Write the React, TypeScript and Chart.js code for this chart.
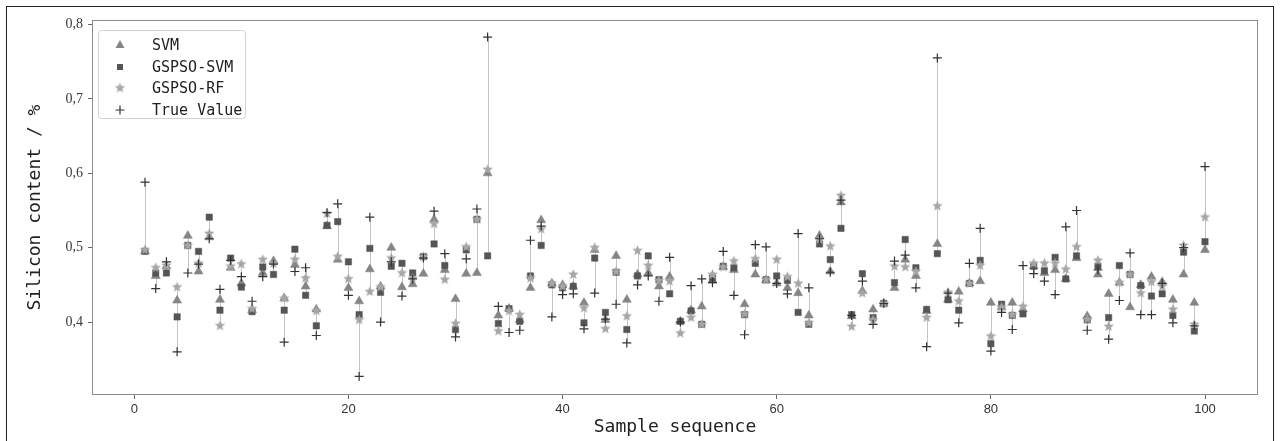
import React, { useEffect, useRef } from 'react';
import { Chart, registerables } from 'chart.js';

Chart.register(...registerables);

// Sample sequence 1..100
const samples: number[] = Array.from({ length: 100 }, (_, i) => i + 1);

const svm: number[] = [
  0.495, 0.462, 0.475, 0.429, 0.516, 0.468, 0.514, 0.430, 0.473, 0.452,
  0.416, 0.466, 0.482, 0.432, 0.477, 0.448, 0.417, 0.529, 0.484, 0.446,
  0.428, 0.471, 0.448, 0.500, 0.447, 0.451, 0.465, 0.538, 0.470, 0.431,
  0.465, 0.466, 0.600, 0.409, 0.418, 0.403, 0.446, 0.537, 0.452, 0.450,
  0.448, 0.426, 0.497, 0.403, 0.489, 0.430, 0.464, 0.466, 0.448, 0.461,
  0.401, 0.416, 0.421, 0.456, 0.474, 0.470, 0.424, 0.464, 0.456, 0.452,
  0.446, 0.439, 0.409, 0.516, 0.468, 0.561, 0.408, 0.442, 0.417, 0.425,
  0.446, 0.484, 0.462, 0.415, 0.505, 0.430, 0.441, 0.452, 0.455, 0.426,
  0.420, 0.426, 0.417, 0.475, 0.466, 0.470, 0.458, 0.486, 0.408, 0.464,
  0.438, 0.453, 0.420, 0.450, 0.461, 0.454, 0.430, 0.464, 0.426, 0.497,
];

const gspsoSvm: number[] = [
  0.495, 0.466, 0.466, 0.407, 0.503, 0.495, 0.541, 0.416, 0.486, 0.447,
  0.414, 0.474, 0.464, 0.416, 0.498, 0.436, 0.395, 0.530, 0.535, 0.481,
  0.410, 0.499, 0.440, 0.475, 0.479, 0.466, 0.488, 0.505, 0.476, 0.390,
  0.497, 0.538, 0.489, 0.398, 0.418, 0.401, 0.462, 0.503, 0.450, 0.446,
  0.448, 0.399, 0.486, 0.413, 0.467, 0.390, 0.462, 0.489, 0.457, 0.438,
  0.401, 0.415, 0.397, 0.459, 0.475, 0.473, 0.410, 0.479, 0.457, 0.462,
  0.456, 0.413, 0.397, 0.505, 0.484, 0.526, 0.410, 0.465, 0.406, 0.425,
  0.453, 0.511, 0.473, 0.417, 0.492, 0.430, 0.416, 0.452, 0.483, 0.371,
  0.424, 0.409, 0.411, 0.475, 0.469, 0.487, 0.458, 0.489, 0.403, 0.475,
  0.406, 0.476, 0.464, 0.449, 0.435, 0.438, 0.409, 0.494, 0.388, 0.508,
];

const gspsoRf: number[] = [
  0.497, 0.473, 0.476, 0.447, 0.503, 0.479, 0.519, 0.395, 0.475, 0.478,
  0.418, 0.484, 0.479, 0.432, 0.484, 0.459, 0.415, 0.546, 0.488, 0.458,
  0.403, 0.441, 0.447, 0.486, 0.466, 0.459, 0.488, 0.532, 0.457, 0.398,
  0.501, 0.538, 0.605, 0.388, 0.415, 0.410, 0.459, 0.525, 0.452, 0.448,
  0.464, 0.419, 0.500, 0.391, 0.468, 0.408, 0.496, 0.476, 0.456, 0.455,
  0.385, 0.406, 0.397, 0.464, 0.474, 0.482, 0.411, 0.485, 0.457, 0.484,
  0.461, 0.452, 0.399, 0.511, 0.502, 0.570, 0.394, 0.439, 0.403, 0.425,
  0.475, 0.474, 0.468, 0.406, 0.556, 0.440, 0.428, 0.452, 0.476, 0.381,
  0.420, 0.410, 0.421, 0.479, 0.479, 0.479, 0.471, 0.501, 0.404, 0.483,
  0.394, 0.453, 0.464, 0.439, 0.454, 0.448, 0.417, 0.503, 0.397, 0.541,
];

const trueValue: number[] = [
  0.588, 0.445, 0.481, 0.360, 0.466, 0.478, 0.512, 0.444, 0.483, 0.461,
  0.428, 0.461, 0.478, 0.373, 0.468, 0.473, 0.382, 0.547, 0.559, 0.436,
  0.327, 0.541, 0.400, 0.481, 0.435, 0.458, 0.486, 0.549, 0.492, 0.380,
  0.485, 0.552, 0.783, 0.421, 0.386, 0.389, 0.510, 0.529, 0.407, 0.437,
  0.438, 0.391, 0.439, 0.404, 0.424, 0.372, 0.450, 0.462, 0.428, 0.487,
  0.400, 0.449, 0.458, 0.453, 0.495, 0.436, 0.383, 0.504, 0.501, 0.452,
  0.438, 0.519, 0.446, 0.512, 0.467, 0.564, 0.409, 0.455, 0.397, 0.425,
  0.482, 0.490, 0.446, 0.367, 0.755, 0.439, 0.399, 0.479, 0.526, 0.361,
  0.413, 0.390, 0.476, 0.465, 0.455, 0.437, 0.528, 0.550, 0.389, 0.470,
  0.377, 0.429, 0.493, 0.410, 0.410, 0.452, 0.399, 0.500, 0.395, 0.609,
];

const xTicks: number[] = [0, 20, 40, 60, 80, 100];
const yTicks: number[] = [0.4, 0.5, 0.6, 0.7, 0.8];
const seriesNames: string[] = ['SVM', 'GSPSO-SVM', 'GSPSO-RF', 'True Value'];

const C_TRI = '#858585';
const C_SQ = '#555555';
const C_STAR = '#a6a6a6';
const C_CROSS = '#333333';

function makeStar(color: string, outer: number, inner: number): HTMLCanvasElement {
  const size = Math.ceil(outer * 2 + 2);
  const c = document.createElement('canvas');
  c.width = size;
  c.height = size;
  const ctx = c.getContext('2d')!;
  const cx = size / 2;
  const cy = size / 2;
  ctx.beginPath();
  for (let k = 0; k < 10; k++) {
    const r = k % 2 === 0 ? outer : inner;
    const a = -Math.PI / 2 + (k * Math.PI) / 5;
    const px = cx + r * Math.cos(a);
    const py = cy + r * Math.sin(a);
    if (k === 0) ctx.moveTo(px, py);
    else ctx.lineTo(px, py);
  }
  ctx.closePath();
  ctx.fillStyle = color;
  ctx.fill();
  return c;
}

const MONO = "'DejaVu Sans Mono', 'Liberation Mono', monospace";

export default function App() {
  const ref = useRef<HTMLCanvasElement | null>(null);

  useEffect(() => {
    if (!ref.current) return;
    const star = makeStar(C_STAR, 5.5, 2.4);

    const rangesPlugin = {
      id: 'ranges',
      beforeDatasetsDraw(chart: any) {
        const { ctx, scales } = chart;
        const xs = scales.x;
        const ys = scales.y;
        ctx.save();
        ctx.strokeStyle = '#c4c4c4';
        ctx.lineWidth = 1;
        samples.forEach((s, i) => {
          const vals = [svm[i], gspsoSvm[i], gspsoRf[i], trueValue[i]];
          const lo = Math.min(...vals);
          const hi = Math.max(...vals);
          const x = Math.round(xs.getPixelForValue(s)) + 0.5;
          ctx.beginPath();
          ctx.moveTo(x, ys.getPixelForValue(lo));
          ctx.lineTo(x, ys.getPixelForValue(hi));
          ctx.stroke();
        });
        ctx.restore();
      },
      afterDraw(chart: any) {
        const { ctx, chartArea } = chart;
        ctx.save();
        // plot frame
        ctx.strokeStyle = '#8c8c8c';
        ctx.lineWidth = 1;
        ctx.strokeRect(chartArea.left + 0.5, chartArea.top + 0.5,
          chartArea.right - chartArea.left - 1, chartArea.bottom - chartArea.top - 1);

        // legend
        const bx = chartArea.left + 6;
        const by = chartArea.top + 10;
        const bw = 147;
        const bh = 88;
        ctx.fillStyle = 'rgba(255,255,255,0.9)';
        ctx.strokeStyle = '#d2d2d2';
        ctx.beginPath();
        ctx.roundRect(bx + 0.5, by + 0.5, bw, bh, 3);
        ctx.fill();
        ctx.stroke();

        const mx = bx + 22;
        const tx = bx + 54;
        const rows = [by + 15, by + 37, by + 58, by + 80];
        // triangle
        ctx.fillStyle = C_TRI;
        ctx.beginPath();
        ctx.moveTo(mx, rows[0] - 5);
        ctx.lineTo(mx + 4.5, rows[0] + 3);
        ctx.lineTo(mx - 4.5, rows[0] + 3);
        ctx.closePath();
        ctx.fill();
        // square
        ctx.fillStyle = C_SQ;
        ctx.fillRect(mx - 3, rows[1] - 3, 6, 6);
        // star
        ctx.drawImage(star, mx - star.width / 2, rows[2] - star.height / 2);
        // cross
        ctx.strokeStyle = C_CROSS;
        ctx.lineWidth = 1.2;
        ctx.beginPath();
        ctx.moveTo(mx - 4.5, rows[3]);
        ctx.lineTo(mx + 4.5, rows[3]);
        ctx.moveTo(mx, rows[3] - 4.5);
        ctx.lineTo(mx, rows[3] + 4.5);
        ctx.stroke();

        ctx.fillStyle = '#222';
        ctx.font = `15px ${MONO}`;
        ctx.textBaseline = 'middle';
        ctx.textAlign = 'left';
        seriesNames.forEach((n, k) => ctx.fillText(n, tx, rows[k] + 1));
        ctx.restore();
      },
    };

    const mk = (arr: number[]) => samples.map((s, i) => ({ x: s, y: arr[i] }));

    const chart = new Chart(ref.current, {
      type: 'scatter',
      data: {
        datasets: [
          {
            label: seriesNames[0], data: mk(svm), pointStyle: 'triangle', pointRadius: 5.2,
            backgroundColor: C_TRI, borderColor: C_TRI, borderWidth: 0.5, order: 4,
          },
          {
            label: seriesNames[1], data: mk(gspsoSvm), pointStyle: 'rect', pointRadius: 4.5,
            backgroundColor: C_SQ, borderColor: C_SQ, borderWidth: 0.5, order: 3,
          },
          {
            label: seriesNames[2], data: mk(gspsoRf), pointStyle: star as any, pointRadius: 5,
            backgroundColor: C_STAR, borderColor: C_STAR, borderWidth: 0, order: 2,
          },
          {
            label: seriesNames[3], data: mk(trueValue), pointStyle: 'cross', pointRadius: 4.5,
            backgroundColor: C_CROSS, borderColor: C_CROSS, borderWidth: 1.2, order: 1,
          },
        ] as any,
      },
      options: {
        animation: false,
        responsive: false,
        events: [],
        layout: { padding: { left: 0, top: 20, right: 24, bottom: 0 } },
        plugins: { legend: { display: false }, tooltip: { enabled: false } },
        scales: {
          x: {
            type: 'linear',
            min: -3.95,
            max: 104.95,
            afterFit(scale: any) { scale.height = 46; },
            afterBuildTicks(scale: any) { scale.ticks = xTicks.map((v) => ({ value: v })); },
            grid: { drawOnChartArea: false, drawTicks: true, tickLength: 4, color: '#666' },
            border: { display: false },
            ticks: {
              padding: 3,
              color: '#333',
              font: { family: "'Liberation Sans', Arial, sans-serif", size: 13 },
              callback: (v: any) => String(v),
              maxRotation: 0,
            },
            title: {
              display: true,
              text: 'Sample sequence',
              color: '#222',
              font: { family: MONO, size: 18 },
              padding: { top: 0, bottom: 3 },
            },
          },
          y: {
            type: 'linear',
            min: 0.302,
            max: 0.806,
            afterFit(scale: any) { scale.width = 92; },
            afterBuildTicks(scale: any) { scale.ticks = yTicks.map((v) => ({ value: v })); },
            grid: { drawOnChartArea: false, drawTicks: true, tickLength: 4, color: '#666' },
            border: { display: false },
            ticks: {
              padding: 5,
              color: '#3a3a3a',
              font: { family: "'Liberation Serif', 'DejaVu Serif', serif", size: 14 },
              callback: (v: any) => Number(v).toFixed(1).replace('.', ','),
            },
            title: {
              display: true,
              text: 'Silicon content / %',
              color: '#222',
              font: { family: MONO, size: 18 },
              padding: { top: 25, bottom: 0 },
            },
          },
        },
      } as any,
      plugins: [rangesPlugin],
    });

    return () => chart.destroy();
  }, []);

  return (
    <div style={{ position: 'absolute', left: 0, top: 0, width: 1282, height: 441, overflow: 'hidden', background: '#fff' }}>
      <div
        style={{
          position: 'absolute', left: 6, top: 6, width: 1268, height: 445,
          border: '1.5px solid #222', boxSizing: 'border-box',
        }}
      />
      <canvas ref={ref} width={1282} height={441} style={{ position: 'absolute', left: 0, top: 0, width: 1282, height: 441 }} />
    </div>
  );
}
